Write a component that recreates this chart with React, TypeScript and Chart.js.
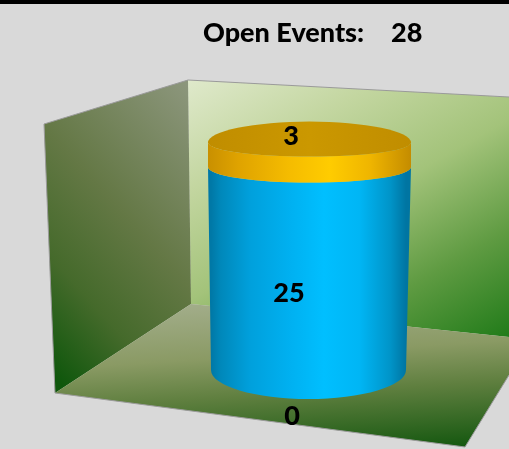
import React, { useEffect, useRef } from "react";
import { Chart, registerables } from "chart.js";

Chart.register(...registerables);

const categories = ["Open Events"];
const closedOut = [0];
const inProgress = [25];
const pending = [3];
const titleLabel = "Open Events:";

const WIDTH = 509;
const HEIGHT = 449;
const BODY_FONT = "900 27px Lato, 'Open Sans', sans-serif";

// Box walls and floor of the 3D stage.
const leftWall = [[44, 124], [188, 80], [191, 304], [55, 393]];
const backWall = [[188, 80], [509, 97], [509, 337], [191, 304]];
const floor = [[191, 304], [509, 337], [509, 375], [465, 447], [55, 393]];

// Label shift from the middle of each stacked segment.
const labelShift = [
  { dx: -17.5, dy: 46 },
  { dx: -20.5, dy: 25 },
  { dx: -18.5, dy: -18 },
];

function polygon(ctx: CanvasRenderingContext2D, pts: number[][], fill: CanvasGradient) {
  ctx.beginPath();
  pts.forEach(([x, y], i) => (i ? ctx.lineTo(x, y) : ctx.moveTo(x, y)));
  ctx.closePath();
  ctx.fillStyle = fill;
  ctx.fill();
}

function linear(ctx: CanvasRenderingContext2D, x0: number, y0: number, x1: number, y1: number, stops: [number, string][]) {
  const g = ctx.createLinearGradient(x0, y0, x1, y1);
  stops.forEach(([o, c]) => g.addColorStop(o, c));
  return g;
}

const stagePlugin = {
  id: "stage",
  beforeDatasetsDraw(chart: any) {
    const ctx: CanvasRenderingContext2D = chart.ctx;
    ctx.save();
    ctx.fillStyle = "#000";
    ctx.fillRect(0, 0, WIDTH, 4);

    polygon(ctx, backWall, linear(ctx, 188, 80, 378, 415, [
      [0, "#dfe9cb"], [0.25, "#c3d6a0"], [0.5, "#a3c37a"], [0.75, "#5f9b42"], [1, "#1f7a18"],
    ]));
    polygon(ctx, leftWall, linear(ctx, 188, 85, -60, 311, [
      [0, "#8c967c"], [0.4, "#647845"], [0.65, "#456a2b"], [0.88, "#0f570c"],
    ]));
    polygon(ctx, floor, linear(ctx, 191, 304, 201, 464, [
      [0, "#a2ad8a"], [0.35, "#8a9a64"], [0.6, "#5f7f3f"], [1, "#14570f"],
    ]));

    // Soft grey rims along the outer edges of the box.
    ctx.strokeStyle = "#9a9a9a";
    ctx.lineWidth = 1;
    const rims = [
      [[44, 124], [188, 80], [509, 97]],
      [[44, 124], [55, 393], [465, 447], [509, 375]],
    ];
    rims.forEach((line) => {
      ctx.beginPath();
      line.forEach(([x, y], i) => (i ? ctx.lineTo(x, y) : ctx.moveTo(x, y)));
      ctx.stroke();
    });
    ctx.restore();
  },
  // The default bar rectangles are replaced by the cylinder below.
  beforeDatasetDraw() {
    return false;
  },
  afterDatasetsDraw(chart: any) {
    const ctx: CanvasRenderingContext2D = chart.ctx;
    const scale = chart.scales.y;
    const total = scale.max;
    const y0 = scale.getPixelForValue(0);
    const first = chart.getDatasetMeta(1).data[0];
    const fullHalf = first.width / 2;
    const frac = (y: number) => (y0 - y) / (y0 - scale.getPixelForValue(total));
    const halfAt = (y: number) => fullHalf - 4 * (1 - Math.min(1, frac(y) * 1.12));
    const cxAt = (y: number) => first.x - 1 + Math.min(1, frac(y) * 1.12);
    const ryAt = (y: number) => 29 - 15 * frac(y);

    const sides = [
      [[0, "#0078a6"], [0.05, "#0088ba"], [0.2, "#00a0dc"], [0.4, "#00b0f0"], [0.58, "#00bfff"], [0.76, "#00b6f5"], [0.92, "#0094c8"], [1, "#0075a2"]],
      [[0, "#c99000"], [0.15, "#dfa300"], [0.4, "#f5bc00"], [0.6, "#ffcc00"], [0.8, "#efb500"], [1, "#c48c00"]],
    ] as [number, string][][];

    [1, 2].forEach((di, i) => {
      const el = chart.getDatasetMeta(di).data[0];
      const yt = el.y;
      const yb = el.base;
      const ht = halfAt(yt);
      const hb = halfAt(yb);
      const ct = cxAt(yt);
      const cb = cxAt(yb);
      ctx.beginPath();
      ctx.moveTo(ct + ht, yt);
      ctx.ellipse(ct, yt, ht, ryAt(yt), 0, 0, Math.PI);
      ctx.lineTo(cb - hb, yb);
      ctx.ellipse(cb, yb, hb, ryAt(yb), 0, Math.PI, 0, true);
      ctx.closePath();
      ctx.fillStyle = linear(ctx, cb - hb, 0, cb + hb, 0, sides[i]);
      ctx.fill();
    });

    // Lid of the stack.
    const top = chart.getDatasetMeta(2).data[0];
    const ht = halfAt(top.y);
    const ct = cxAt(top.y);
    ctx.beginPath();
    ctx.moveTo(ct + ht, top.y);
    ctx.ellipse(ct, top.y, ht, ryAt(top.y), 0, 0, Math.PI);
    ctx.ellipse(ct, top.y, ht, 21, 0, Math.PI, 0);
    ctx.closePath();
    ctx.fillStyle = linear(ctx, ct - ht, 0, ct + ht, 0, [
      [0, "#c08d00"], [0.5, "#cb9800"], [1, "#c08d00"],
    ]);
    ctx.fill();

    // Value labels and the header text.
    ctx.fillStyle = "#000";
    ctx.font = BODY_FONT;
    ctx.textBaseline = "middle";
    ctx.textAlign = "center";
    chart.data.datasets.forEach((ds: any, di: number) => {
      const el = chart.getDatasetMeta(di).data[0];
      const mid = (el.y + el.base) / 2;
      ctx.fillText(String(ds.data[0]), el.x + labelShift[di].dx, mid + labelShift[di].dy);
    });
    ctx.textAlign = "left";
    ctx.fillText(titleLabel, 203, 33);
    ctx.fillText(String(total), 391, 33);
  },
};

export default function App() {
  const ref = useRef<HTMLCanvasElement>(null);

  useEffect(() => {
    const chart = new Chart(ref.current!, {
      type: "bar",
      data: {
        labels: categories,
        datasets: [
          { label: "Closed", data: closedOut, backgroundColor: "#7f7f7f" },
          { label: "In progress", data: inProgress, backgroundColor: "#00bdff" },
          { label: "Pending", data: pending, backgroundColor: "#ffcc00" },
        ],
      },
      options: {
        responsive: false,
        animation: false,
        layout: { padding: { left: 208, right: 98, top: 142.6, bottom: 79 } },
        datasets: { bar: { barPercentage: 1, categoryPercentage: 1 } },
        plugins: { legend: { display: false }, tooltip: { enabled: false } },
        scales: {
          x: { display: false, stacked: true },
          y: { display: false, stacked: true, min: 0, max: closedOut[0] + inProgress[0] + pending[0] },
        },
      },
      plugins: [stagePlugin],
    } as any);
    return () => chart.destroy();
  }, []);

  return (
    <div style={{ position: "fixed", inset: 0, background: "#d9d9d9" }}>
      <canvas ref={ref} width={WIDTH} height={HEIGHT} style={{ display: "block" }} />
    </div>
  );
}
